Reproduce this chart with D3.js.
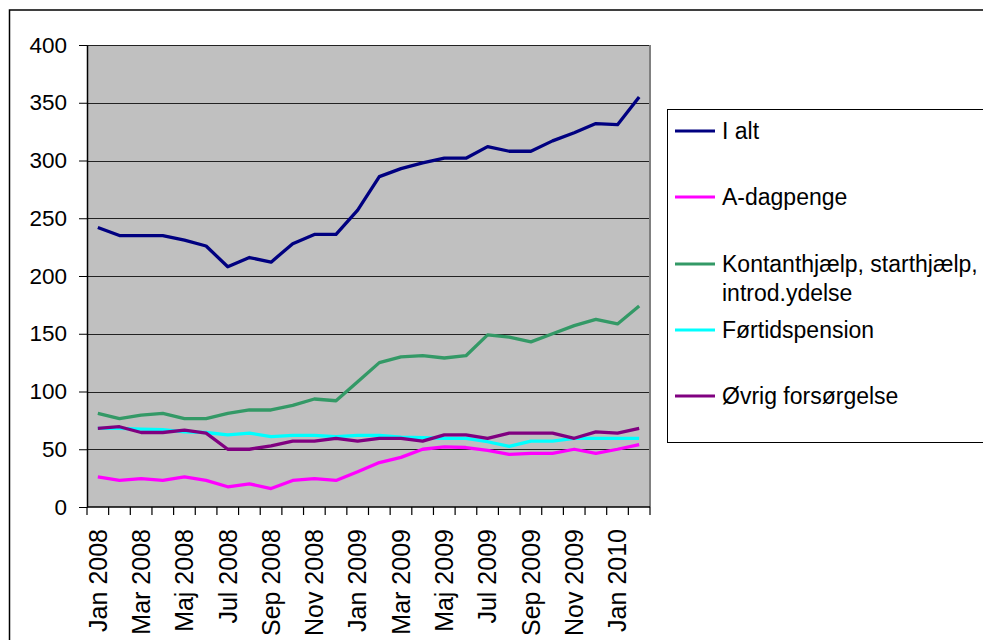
<!DOCTYPE html>
<html>
<head>
<meta charset="utf-8">
<script src="https://cdn.jsdelivr.net/npm/d3@7"></script>
<style>
  body { margin: 0; background: #fff; }
  svg { display: block; font-family: "Liberation Sans", Arial, sans-serif; }
</style>
</head>
<body>
<script>
// months Jan 2008 - Feb 2010 (danish)
var months = ["Jan 2008","Feb 2008","Mar 2008","Apr 2008","Maj 2008","Jun 2008","Jul 2008","Aug 2008",
  "Sep 2008","Okt 2008","Nov 2008","Dec 2008","Jan 2009","Feb 2009","Mar 2009","Apr 2009","Maj 2009",
  "Jun 2009","Jul 2009","Aug 2009","Sep 2009","Okt 2009","Nov 2009","Dec 2009","Jan 2010","Feb 2010"];

var yTicks = [0, 50, 100, 150, 200, 250, 300, 350, 400];

var seriesNames = ["I alt", "A-dagpenge", "Kontanthjælp, starthjælp, introd.ydelse", "Førtidspension", "Øvrig forsørgelse"];
var seriesColors = ["#000080", "#ff00ff", "#339966", "#00ffff", "#800080"];

var iAlt = [242,235,235,235,231,226,208,216,212,228,236,236,257,286,293,298,302,302,312,308,308,317,324,332,331,355];
var aDagpenge = [26,23,24.5,23,26,23,17.5,20,16,23,24.5,23,30.5,38.5,43,50,52,51.5,49,45.5,46.5,46.5,50,46.5,50,54];
var kontant = [81,76.5,79.5,81,76.5,76.5,81,84,84,88,93.5,92,108.5,125,130,131,129,131,149,147,143,150,157,162.5,158.5,174];
var foertid = [68,68,67.5,67,65,64.5,62.5,64,61,62,62,61,62,62,60.5,60,59.5,59.5,56.5,52.5,57,57,59.5,59.5,59.5,59.5];
var oevrig = [68,69.5,64.5,64.5,66.5,64,50,50,53,57,57,59.5,57,59.5,59.5,57,62.5,62.5,59.5,64,64,64,59.5,65,64,68];

var allSeries = [iAlt, aDagpenge, kontant, foertid, oevrig];

var W = 983, H = 640;
var plot = { left: 87, right: 650, top: 45, bottom: 507 };

var svg = d3.select("body").append("svg").attr("width", W).attr("height", H);

// outer chart frame (runs off the picture on right/bottom)
svg.append("rect")
  .attr("x", 9.5).attr("y", 10)
  .attr("width", 1100).attr("height", 800)
  .attr("fill", "#fff").attr("stroke", "#000").attr("stroke-width", 1.5);

var x = d3.scaleBand().domain(months).range([plot.left, plot.right]).padding(0);
var y = d3.scaleLinear().domain([0, 400]).range([plot.bottom, plot.top]);

// plot area
svg.append("rect")
  .attr("x", plot.left).attr("y", plot.top)
  .attr("width", plot.right - plot.left).attr("height", plot.bottom - plot.top)
  .attr("fill", "#c0c0c0");

// gridlines
svg.append("g").selectAll("line")
  .data(yTicks.filter(function(d){ return d > 0; }))
  .join("line")
  .attr("x1", plot.left).attr("x2", plot.right)
  .attr("y1", function(d){ return Math.round(y(d)) + 0.5; })
  .attr("y2", function(d){ return Math.round(y(d)) + 0.5; })
  .attr("stroke", "#222").attr("stroke-width", 1.2);

// right border of plot
svg.append("line")
  .attr("x1", plot.right).attr("x2", plot.right)
  .attr("y1", plot.top).attr("y2", plot.bottom)
  .attr("stroke", "#808080").attr("stroke-width", 2);

// y axis
var yAxis = d3.axisLeft(y).tickValues(yTicks).tickSize(8).tickSizeOuter(0).tickPadding(12);
var gy = svg.append("g")
  .attr("transform", "translate(" + plot.left + ",0)")
  .call(yAxis);
gy.select(".domain").attr("stroke", "#000").attr("stroke-width", 1.5);
gy.selectAll(".tick line").attr("stroke", "#000");
gy.selectAll("text").attr("font-size", 22.5).attr("fill", "#000")
  .attr("font-family", "'Liberation Sans', Arial, sans-serif");

// x axis: tick marks on category boundaries
var gx = svg.append("g").attr("transform", "translate(0," + plot.bottom + ")");
gx.append("line")
  .attr("x1", plot.left).attr("x2", plot.right)
  .attr("stroke", "#000").attr("stroke-width", 1.5);
var bounds = months.map(function(m){ return x(m); }).concat([x(months[months.length - 1]) + x.bandwidth()]);
gx.selectAll("line.tk")
  .data(bounds)
  .join("line").attr("class", "tk")
  .attr("x1", function(d){ return d; }).attr("x2", function(d){ return d; })
  .attr("y1", 0).attr("y2", 8)
  .attr("stroke", "#000").attr("stroke-width", 1.2);

// x labels, every other month, rotated
var labAxis = d3.axisBottom(x)
  .tickValues(months.filter(function(d, i){ return i % 2 === 0; }))
  .tickSize(0);
var gl = svg.append("g")
  .attr("transform", "translate(0," + plot.bottom + ")")
  .call(labAxis);
gl.select(".domain").remove();
gl.selectAll("text")
  .attr("transform", "rotate(-90)")
  .attr("text-anchor", "end")
  .attr("x", -22).attr("y", 0).attr("dy", "0.35em")
  .attr("font-size", 25).attr("fill", "#000")
  .attr("font-family", "'Liberation Sans', Arial, sans-serif");

// lines
var line = d3.line()
  .x(function(d, i){ return x(months[i]) + x.bandwidth() / 2; })
  .y(function(d){ return y(d); });

allSeries.forEach(function(s, k){
  svg.append("path")
    .datum(s)
    .attr("d", line)
    .attr("fill", "none")
    .attr("stroke", seriesColors[k])
    .attr("stroke-width", 3.3)
    .attr("stroke-linejoin", "round");
});

// legend
var leg = svg.append("g");
leg.append("rect")
  .attr("x", 667.5).attr("y", 109.5)
  .attr("width", 400).attr("height", 333)
  .attr("fill", "#fff").attr("stroke", "#000").attr("stroke-width", 1);

var legY = [131, 197, 264, 330, 396];
seriesNames.forEach(function(name, k){
  var g = leg.append("g").attr("transform", "translate(0," + legY[k] + ")");
  g.append("line")
    .attr("x1", 675).attr("x2", 715)
    .attr("stroke", seriesColors[k]).attr("stroke-width", 3);
  var t = g.append("text")
    .attr("x", 722).attr("y", 0).attr("dy", "0.35em")
    .attr("font-size", 23).attr("fill", "#000");
  if (k === 2) {
    t.text("Kontanthjælp, starthjælp,");
    g.append("text")
      .attr("x", 722).attr("y", 29).attr("dy", "0.35em")
      .attr("font-size", 23).attr("fill", "#000")
      .text("introd.ydelse");
  } else {
    t.text(name);
  }
});
</script>
</body>
</html>
